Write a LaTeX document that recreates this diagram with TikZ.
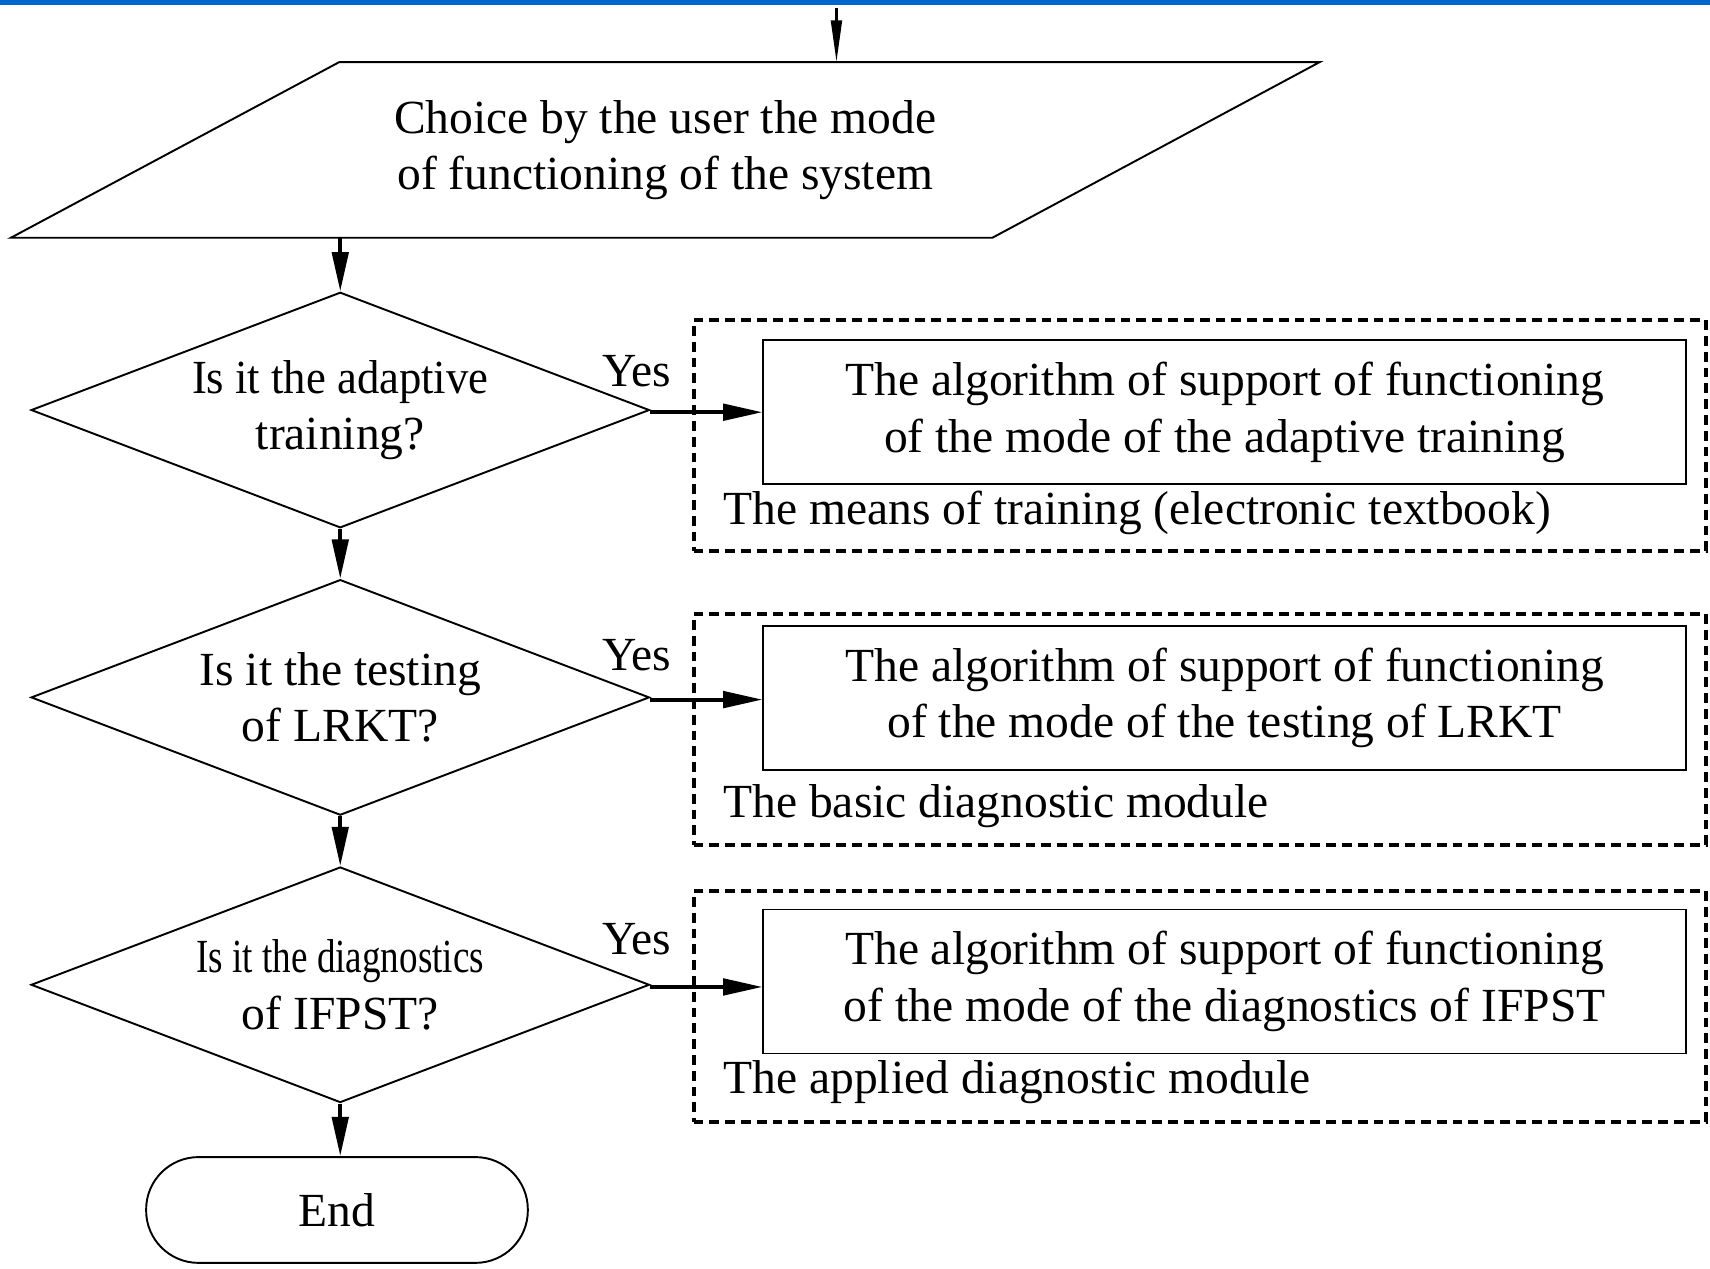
\documentclass[tikz,border=0pt]{standalone}
\usepackage{fontspec}
\setmainfont{Liberation Serif}
\usetikzlibrary{arrows.meta,shapes.geometric}
\definecolor{Bar}{HTML}{0066CC}

\begin{document}
\begin{tikzpicture}[
    font=\fontsize{24.8}{29.4}\selectfont,
    decision/.style={diamond,draw,line width=1pt,aspect=2.625,inner sep=0pt,
      minimum width=11.34cm,minimum height=4.32cm,align=center},
    algbox/.style={rectangle,draw,line width=1pt,minimum width=16.92cm,
      minimum height=2.64cm,align=center},
    group/.style={rectangle,draw,dash pattern=on 0.18cm off 0.11cm,
      line width=2pt,minimum width=18.56cm,minimum height=4.24cm},
    caption/.style={anchor=west,inner sep=0pt},
    flow/.style={-{Triangle[length=0.72cm,width=0.3cm]},line width=2pt}
  ]
    \useasboundingbox (0,0) rectangle (31.36,23.26);
    \fill[Bar] (0,23.17) rectangle (31.36,23.26);

    % input of the mode
    \coordinate (src) at (15.34,23.12);
    \draw[line width=1pt] (0.2,18.9) -- (6.22,22.12) -- (24.2,22.12) -- (18.2,18.9) -- cycle;
    \node[minimum height=3.22cm,align=center] (choice) at (12.2,20.51)
      {Choice by the user the mode\\of functioning of the system};

    % questions
    \node[decision] (q1) at (6.24,15.74) {\scalebox{0.94}[1]{Is it the adaptive}\\training?};
    \node[decision] (q2) at (6.24,10.47) {Is it the testing\\of LRKT?};
    \node[decision] (q3) at (6.24,5.2) {\scalebox{0.78}[1]{Is it the diagnostics}\\of IFPST?};
    \node[rectangle,draw,line width=1pt,rounded corners=0.96cm,
      minimum width=7cm,minimum height=1.94cm] (stop) at (6.18,1.07) {End};

    % modules
    \node[group] (g1) at (22.0,15.27) {};
    \node[group] (g2) at (22.0,9.88) {};
    \node[group] (g3) at (22.0,4.8) {};
    \node[algbox] (a1) at (22.46,15.7) {The algorithm of support of functioning\\of the mode of the adaptive training};
    \node[algbox] (a2) at (22.46,10.46) {The algorithm of support of functioning\\of the mode of the testing of LRKT};
    \node[algbox] (a3) at (22.46,5.26) {The algorithm of support of functioning\\of the mode of the diagnostics of IFPST};
    \node[caption] (c1) at (13.26,13.86) {The means of training (electronic textbook)};
    \node[caption] (c2) at (13.26,8.48) {The basic diagnostic module};
    \node[caption] (c3) at (13.26,3.42) {The applied diagnostic module};

    \node (y1) at (11.68,16.46) {Yes};
    \node (y2) at (11.68,11.24) {Yes};
    \node (y3) at (11.68,6.04) {Yes};

    % connectors
    \draw[-{Triangle[length=0.76cm,width=0.2cm]},line width=1.2pt] (src) -- (src |- choice.north);
    \draw[flow] (q1.north |- choice.south) -- (q1.north);
    \draw[flow] (q1.south) -- (q2.north);
    \draw[flow] (q2.south) -- (q3.north);
    \draw[flow] (q3.south) -- (q3.south |- stop.north);
    \draw[flow] ([yshift=-0.04cm]q1.east) -- ([yshift=-0.04cm]q1.east -| a1.west);
    \draw[flow] ([yshift=-0.04cm]q2.east) -- ([yshift=-0.04cm]q2.east -| a2.west);
    \draw[flow] ([yshift=-0.04cm]q3.east) -- ([yshift=-0.04cm]q3.east -| a3.west);
  \end{tikzpicture}
\end{document}
